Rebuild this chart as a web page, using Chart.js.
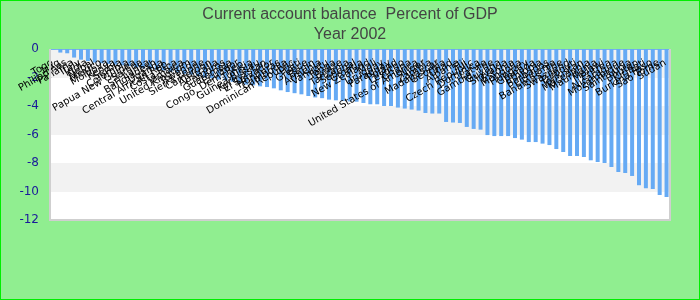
<!DOCTYPE html>
<html>
<head>
<meta charset="utf-8">
<script src="https://cdn.jsdelivr.net/npm/chart.js@4"></script>
<style>
  html, body { margin: 0; padding: 0; background: #90ee90; }
  #wrap { width: 700px; height: 300px; position: relative; }
</style>
</head>
<body>
<div id="wrap"><canvas id="chart"></canvas></div>
<script>
const countries = [
  'Togo', 'Iraq', 'Philippines', 'Panama', 'Italy', 'India', 'Nepal', 'Mexico', 'Moldova', 'Kenya',
  'Serbia', 'Colombia', 'Papua New Guinea', 'Samoa', 'Sri Lanka', 'Bangladesh', 'Uganda', 'Central African Rep.', 'Costa Rica', 'Jamaica',
  'United Kingdom', 'Rwanda', 'Sierra Leone', 'Cameroon', 'Australia', 'Comoros', 'Guatemala', 'Ecuador', 'Congo, Dem. Rep.', 'Tunisia',
  'Guinea-Bissau', 'Kyrgyzstan', 'El Salvador', 'Honduras', 'Cambodia', 'Dominican Republic', 'Haiti', 'Greece', 'Benin', 'Armenia',
  'Vanuatu', 'Tonga', 'Belize', 'Tanzania', 'Senegal', 'Croatia', 'New Zealand', 'Mali', 'Uruguay', 'Paraguay',
  'Poland', 'Lesotho', 'Ghana', 'United States of America', 'Niger', 'Zambia', 'Madagascar', 'Georgia', 'Chad', 'Albania',
  'Fiji', 'Czech Republic', 'Dominica', 'Latvia', 'Gambia, The', 'Guyana', 'Slovakia', 'Estonia', 'Mongolia', 'Hungary',
  'Grenada', 'Ethiopia', 'Barbados', 'Lithuania', 'Bahamas, The', 'Swaziland', 'Djibouti', 'Tajikistan', 'Macedonia', 'Mauritania',
  'Malawi', 'Eritrea', 'Nicaragua', 'Mozambique', 'Saint Lucia', 'Bhutan', 'Kiribati', 'Burkina Faso', 'Sao Tome', 'Sudan'
];

const balance = [
  -0.03, -0.25, -0.3, -0.6, -0.75, -0.85, -0.95, -1.0, -1.05, -1.1,
  -1.15, -1.2, -1.3, -1.35, -1.4, -1.45, -1.5, -1.6, -1.65, -1.75,
  -1.8, -1.9, -2.0, -2.05, -2.15, -2.2, -2.3, -2.4, -2.5, -2.55,
  -2.62, -2.67, -2.76, -2.9, -3.02, -3.1, -3.18, -3.3, -3.4, -3.45,
  -3.55, -3.6, -3.65, -3.68, -3.7, -3.79, -3.88, -3.88, -4.0, -4.0,
  -4.11, -4.18, -4.25, -4.32, -4.49, -4.53, -4.53, -5.12, -5.16, -5.19,
  -5.47, -5.61, -5.66, -6.04, -6.11, -6.11, -6.11, -6.25, -6.36, -6.53,
  -6.53, -6.64, -6.74, -7.02, -7.23, -7.51, -7.51, -7.58, -7.81, -7.93,
  -8.0, -8.28, -8.63, -8.7, -8.91, -9.56, -9.78, -9.82, -10.25, -10.39
];

const yTicks = [0, -2, -4, -6, -8, -10, -12];

// background, frame and alternating bands
const backdrop = {
  id: 'backdrop',
  beforeDraw(chart) {
    const {ctx, chartArea: a, scales: {y}} = chart;
    ctx.save();
    ctx.fillStyle = '#90ee90';
    ctx.fillRect(0, 0, chart.width, chart.height);
    ctx.strokeStyle = '#00ee00';
    ctx.lineWidth = 1;
    ctx.strokeRect(0.5, 0.5, chart.width - 1, chart.height - 1);
    for (let k = 0; k < yTicks.length - 1; k++) {
      const top = Math.round(y.getPixelForValue(yTicks[k]));
      const bot = Math.round(y.getPixelForValue(yTicks[k + 1]));
      ctx.fillStyle = k % 2 === 0 ? '#f2f2f2' : '#ffffff';
      ctx.fillRect(Math.round(a.left), top, Math.round(a.right - a.left), bot - top);
    }
    ctx.restore();
  },
  afterDraw(chart) {
    const {ctx, chartArea: a} = chart;
    ctx.save();
    ctx.strokeStyle = '#cfcfcf';
    ctx.lineWidth = 2;
    ctx.beginPath();
    ctx.moveTo(a.left, a.top);
    ctx.lineTo(a.left, a.bottom);
    ctx.lineTo(a.right, a.bottom);
    ctx.lineTo(a.right, a.top);
    ctx.stroke();
    ctx.restore();
  }
};

// rotated country names hanging under the zero line
const countryLabels = {
  id: 'countryLabels',
  afterDatasetsDraw(chart) {
    const {ctx, scales: {x, y}} = chart;
    const y0 = y.getPixelForValue(0) + 13;
    ctx.save();
    ctx.font = '10px "DejaVu Sans"';
    ctx.fillStyle = '#000';
    ctx.textAlign = 'right';
    ctx.textBaseline = 'middle';
    countries.forEach((name, i) => {
      ctx.save();
      ctx.translate(x.getPixelForValue(i) - 1, y0);
      ctx.rotate(-Math.PI / 6);
      ctx.fillText(name, 0, 0);
      ctx.restore();
    });
    ctx.restore();
  }
};

new Chart(document.getElementById('chart'), {
  type: 'bar',
  data: {
    labels: countries,
    datasets: [{
      data: balance,
      backgroundColor: '#66aaf4',
      barPercentage: 0.58,
      categoryPercentage: 1.0
    }]
  },
  options: {
    responsive: true,
    maintainAspectRatio: false,
    animation: false,
    layout: { padding: { left: 0, right: 0, top: 0, bottom: 80 } },
    plugins: {
      legend: { display: false },
      tooltip: { enabled: false },
      title: {
        display: true,
        text: ['Current account balance  Percent of GDP', 'Year 2002'],
        color: '#444',
        font: { family: '"Liberation Sans"', size: 16, weight: 'normal', lineHeight: 1.25 },
        padding: { top: 5, bottom: 4 }
      }
    },
    scales: {
      x: {
        position: 'top',
        ticks: { display: false },
        grid: { display: false, drawTicks: false },
        border: { display: true, color: '#7fb0ee', dash: [3, 2], width: 1 }
      },
      y: {
        min: -12,
        max: 0,
        afterBuildTicks(scale) { scale.ticks = yTicks.map(v => ({value: v})); },
        afterFit(scale) { scale.width = 50; },
        ticks: {
          color: '#1a1a9a',
          padding: 11,
          font: { family: '"DejaVu Sans"', size: 12 }
        },
        grid: { display: false, drawTicks: false },
        border: { display: false }
      },
      // empty right-hand axis, only reserves the margin
      yRight: {
        position: 'right',
        display: true,
        afterFit(scale) { scale.width = 30; },
        ticks: { display: false },
        grid: { display: false, drawTicks: false },
        border: { display: false }
      }
    }
  },
  plugins: [backdrop, countryLabels]
});
</script>
</body>
</html>
